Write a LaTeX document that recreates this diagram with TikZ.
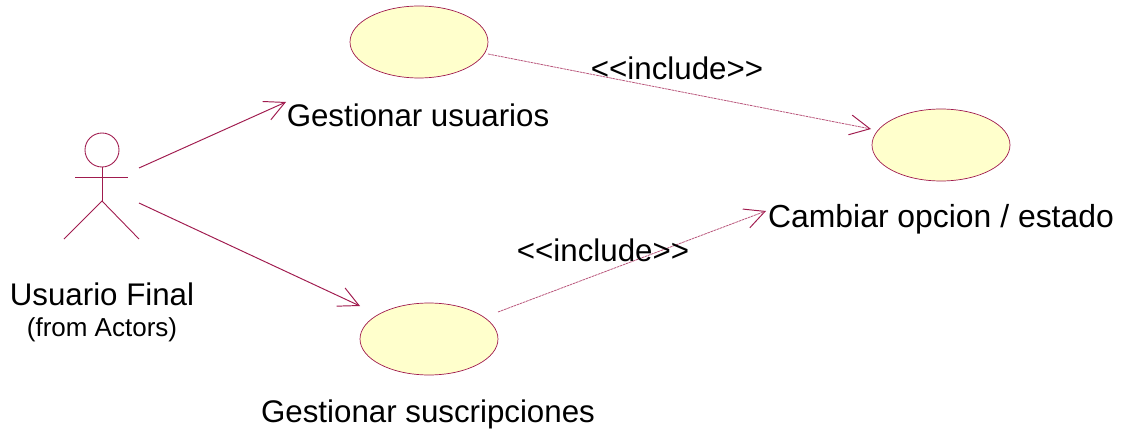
\documentclass[tikz,border=0pt]{standalone}
\usepackage{fontspec}
\setmainfont{Liberation Sans}
\usetikzlibrary{arrows.meta,shapes.geometric}
\definecolor{umlline}{HTML}{A01B4E}
\definecolor{umlfill}{HTML}{FFFFCC}
\tikzset{
  usecase/.style={draw=umlline, fill=umlfill, ellipse, line width=0.4pt, minimum width=2.76cm, minimum height=1.44cm, inner sep=0pt},
  umltext/.style={font=\fontsize{17.8}{20}\selectfont, inner sep=0pt, text=black},
  umlwide/.style={font=\fontsize{18.15}{20}\selectfont, inner sep=0pt, text=black},
  umlsmall/.style={font=\fontsize{14.8}{16}\selectfont, inner sep=0pt, text=black},
  actorline/.style={draw=umlline, line width=0.5pt},
  assoc/.style={draw=umlline, line width=0.55pt, -{Straight Barb[length=4mm, width=4mm]}},
  incl/.style={draw=umlline!75, line width=0.45pt, dash pattern=on 1.5pt off 0.4pt, -{Straight Barb[length=4mm, width=4mm, umlline, line width=0.55pt]}},
}
\begin{document}
\begin{tikzpicture}[x=0.02cm, y=-0.02cm]
\useasboundingbox (0,0) rectangle (1126,429);
% actor
\node[draw=umlline, line width=0.5pt, circle, minimum size=0.68cm, inner sep=0pt] (head) at (102,150) {};
\coordinate (armL) at (75,177);
\coordinate (armR) at (128,177);
\coordinate (hip) at (102,201);
\coordinate (legL) at (64,239);
\coordinate (legR) at (139,239);
\draw[actorline] (head.south) -- (hip);
\draw[actorline] (armL) -- (armR);
\draw[actorline] (legL) -- (hip) -- (legR);
\node[umltext] (actorname) at (102,294) {Usuario Final};
\node[umlsmall] (actorfrom) at (102,330) {(from Actors)};

% use cases
\node[usecase] (usuarios) at (419,42) {};
\node[usecase] (cambiar) at (941,145) {};
\node[usecase] (suscrip) at (429,339) {};
\node[umltext] (usuariostxt) at (418,115) {Gestionar usuarios};
\node[umlwide] (cambiartxt) at (941,219) {Cambiar opcion / estado};
\node[umltext] (suscriptxt) at (428,414) {Gestionar suscripciones};

% connector ends
\coordinate (a1) at (139,168);
\coordinate (a2) at (139,203);
\coordinate (i1) at (488,54);
\coordinate (i2) at (498,312);
\coordinate (e1) at (286,102);
\coordinate (e2) at (360,306);
\coordinate (e3) at (871,129);
\coordinate (e4) at (766,211);
\draw[assoc] (a1) -- (e1);
\draw[assoc] (a2) -- (e2);
\draw[incl] (i1) -- (e3);
\draw[incl] (i2) -- (e4);
\node[umltext] (incl1) at (677,68) {<{}<include>{}>};
\node[umltext] (incl2) at (603,250) {<{}<include>{}>};
\end{tikzpicture}
\end{document}
